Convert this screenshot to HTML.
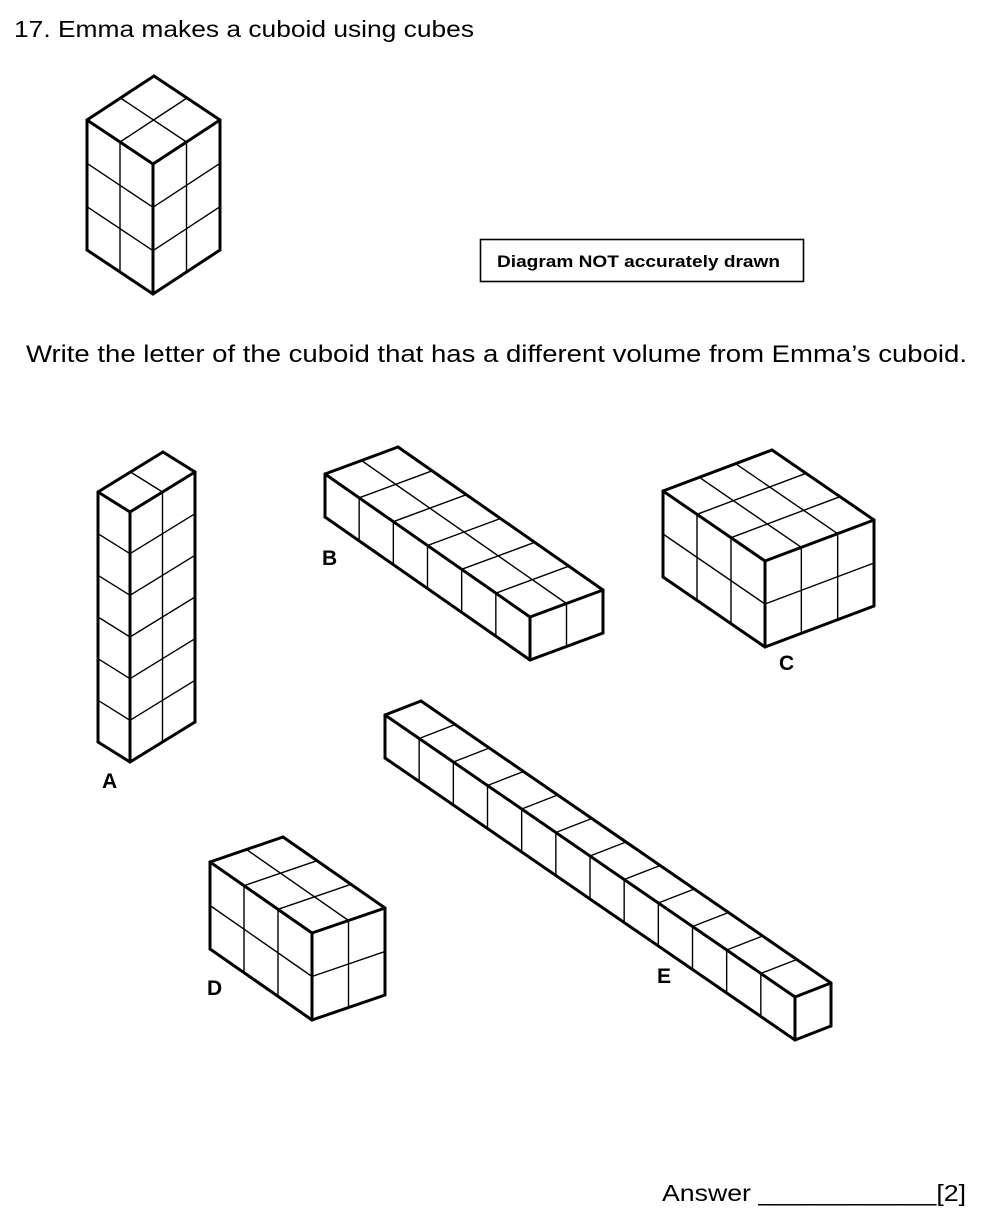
<!DOCTYPE html>
<html><head><meta charset="utf-8"><style>
body{margin:0;background:#fff;width:1000px;height:1232px;overflow:hidden;font-family:"Liberation Sans",sans-serif;}
svg{position:absolute;left:0;top:0}
</style></head><body>
<svg id="s" width="1000" height="1232" xmlns="http://www.w3.org/2000/svg">
<text x="14" y="37" font-size="23" textLength="460" lengthAdjust="spacingAndGlyphs" font-family="Liberation Sans, sans-serif" fill="#000">17.  Emma makes a cuboid using cubes</text>
<rect x="480.5" y="239.5" width="323" height="42" fill="none" stroke="#000" stroke-width="1.6"/>
<text x="497" y="267" font-size="17" font-weight="bold" textLength="283" lengthAdjust="spacingAndGlyphs" font-family="Liberation Sans, sans-serif">Diagram NOT accurately drawn</text>
<text x="26" y="362" font-size="24" textLength="941" lengthAdjust="spacingAndGlyphs" font-family="Liberation Sans, sans-serif">Write the letter of the cuboid that has a different volume from Emma’s cuboid.</text>
<g font-size="21" font-weight="bold" font-family="Liberation Sans, sans-serif">
<text x="102" y="788">A</text>
<text x="322" y="565">B</text>
<text x="779" y="670">C</text>
<text x="207" y="995">D</text>
<text x="657" y="983">E</text>
</g>
<text x="662" y="1201" font-size="23" textLength="304" lengthAdjust="spacingAndGlyphs" font-family="Liberation Sans, sans-serif">Answer ____________[2]</text>
<g id="g" fill="none" stroke="#000" stroke-linejoin="round" stroke-linecap="round"></g>
</svg>
<script>
var g=document.getElementById('g'),out='';
function ln(a,b,w){out+='<line x1="'+a[0]+'" y1="'+a[1]+'" x2="'+b[0]+'" y2="'+b[1]+'" stroke-width="'+w+'"/>';}
function ad(a,b,k){k=k===undefined?1:k;return [a[0]+b[0]*k,a[1]+b[1]*k];}
function cub(P,L,R,H,nl,nr,nu){
 var U=[0,-H],T=ad(P,U);
 for(var i=1;i<nl;i++){var a=ad(P,L,i/nl);ln(a,ad(a,U),1.4);var t=ad(T,L,i/nl);ln(t,ad(t,R),1.4);}
 for(var i=1;i<nr;i++){var a=ad(P,R,i/nr);ln(a,ad(a,U),1.4);var t=ad(T,R,i/nr);ln(t,ad(t,L),1.4);}
 for(var j=1;j<nu;j++){var a=ad(P,U,j/nu);ln(a,ad(a,L),1.4);ln(a,ad(a,R),1.4);}
 var W=3;
 ln(P,ad(P,L),W);ln(P,ad(P,R),W);ln(P,T,W);
 ln(ad(P,L),ad(T,L),W);ln(ad(P,R),ad(T,R),W);
 ln(T,ad(T,L),W);ln(T,ad(T,R),W);
 ln(ad(T,L),ad(ad(T,L),R),W);ln(ad(T,R),ad(ad(T,R),L),W);
}
cub([153,294],[-66,-44],[67,-44],130,2,2,3);
cub([130,762],[-32,-20],[65,-40],250,1,2,6);
cub([530,660],[-205,-143],[73,-27],43,6,2,1);
cub([765,647],[-102,-70],[109,-41],86,3,3,2);
cub([312,1020],[-102,-71],[73,-25],87,3,2,2);
cub([795,1040],[-410,-282],[36,-14],43,12,1,1);
g.innerHTML=out;
</script>
</body></html>
